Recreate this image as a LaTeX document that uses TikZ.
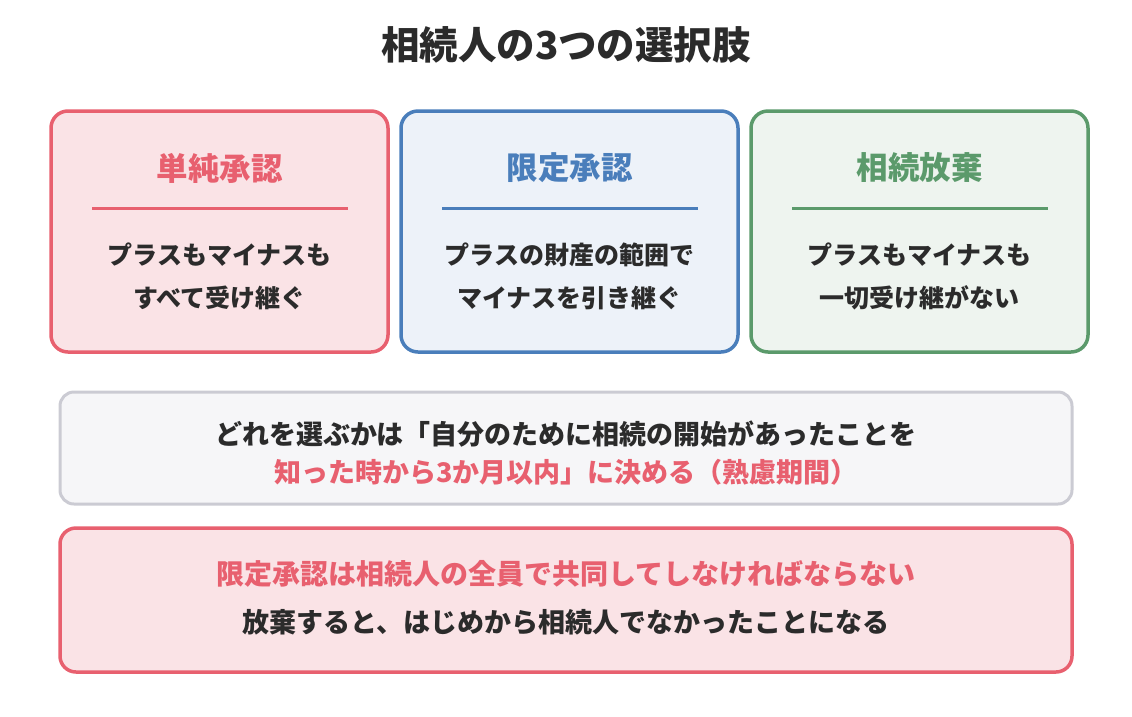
\documentclass[tikz,border=0pt]{standalone}
\usepackage{fontspec}
\setmainfont{Noto Sans CJK JP}
\begin{document}
\begin{tikzpicture}[x=1pt,y=-1pt,
  card/.style={draw, line width=3.5pt, rounded corners=17pt},
  ttl/.style={font=\bfseries\fontsize{31.5}{34}\selectfont, anchor=center},
  body/.style={font=\bfseries\fontsize{25}{43}\selectfont, text=ink, align=center, anchor=center},
  note/.style={font=\bfseries\fontsize{27}{38}\selectfont, align=center, anchor=center}]
\definecolor{ink}{HTML}{2B2B2B}
\definecolor{rd}{HTML}{E8606F}
\definecolor{rdf}{HTML}{FAE3E6}
\definecolor{bl}{HTML}{4A7EBB}
\definecolor{blf}{HTML}{EDF2F9}
\definecolor{gr}{HTML}{5B9A6B}
\definecolor{grf}{HTML}{EEF4EF}
\definecolor{gy}{HTML}{CBCBD3}
\definecolor{gyf}{HTML}{F6F6F8}
\useasboundingbox (0,0) rectangle (1132,716);
\node[font=\bfseries\fontsize{38.5}{40}\selectfont, text=ink] (title) at (566,45) {相続人の3つの選択肢};
% cards
\draw[card, draw=rd, fill=rdf] (51,111) rectangle (388,352);
\node[ttl, text=rd] (t1) at (219.5,168) {単純承認};
\draw[rd, line width=3pt] (92,208) -- (348,208);
\node[body] (b1) at (219.5,276) {プラスもマイナスも\\すべて受け継ぐ};
\draw[card, draw=bl, fill=blf] (401,111) rectangle (738,352);
\node[ttl, text=bl] (t2) at (569.5,168) {限定承認};
\draw[bl, line width=3pt] (442,208) -- (698,208);
\node[body] (b2) at (569.5,276) {プラスの財産の範囲で\\マイナスを引き継ぐ};
\draw[card, draw=gr, fill=grf] (751,111) rectangle (1088,352);
\node[ttl, text=gr] (t3) at (919.5,168) {相続放棄};
\draw[gr, line width=3pt] (792,208) -- (1048,208);
\node[body] (b3) at (919.5,276) {プラスもマイナスも\\一切受け継がない};
% note box
\draw[card, line width=3pt, draw=gy, fill=gyf, rounded corners=14pt] (60,392) rectangle (1072,504);
\node[note, text=ink] (n1) at (566,434) {どれを選ぶかは「自分のために相続の開始があったことを};
\node[note, text=rd] (n2) at (566,472) {知った時から3か月以内」に決める（熟慮期間）};
% warning box
\draw[card, draw=rd, fill=rdf, rounded corners=16pt] (60,528) rectangle (1072,672);
\node[note, text=rd, font=\bfseries\fontsize{28}{38}\selectfont] (w1) at (566,574) {限定承認は相続人の全員で共同してしなければならない};
\node[note, text=ink] (w2) at (566,622) {放棄すると、はじめから相続人でなかったことになる};
\end{tikzpicture}
\end{document}
